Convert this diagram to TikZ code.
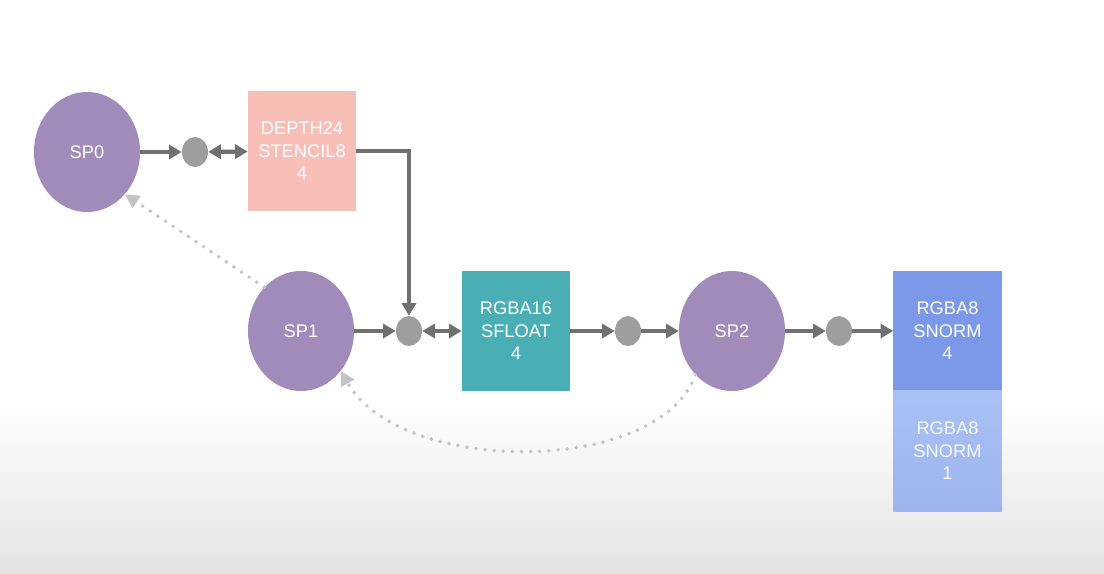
\documentclass[tikz,border=0pt]{standalone}
\usepackage{fontspec}
\setmainfont{Liberation Sans}
\usetikzlibrary{shapes.geometric,arrows.meta}
\definecolor{subpass}{HTML}{A08BBA}
\definecolor{depthcol}{HTML}{F8BFB8}
\definecolor{floatcol}{HTML}{4AAEB5}
\definecolor{snormcol}{HTML}{7C98E8}
\definecolor{snormtop}{HTML}{A9C1F6}
\definecolor{snormbot}{HTML}{9DB5EC}
\definecolor{dotcol}{HTML}{9E9E9E}
\definecolor{linecol}{HTML}{707070}
\definecolor{depcol}{HTML}{C4C4C8}
\begin{document}
\begin{tikzpicture}[x=0.025cm,y=-0.025cm]
		        \tikzstyle{subpass}=[ellipse,fill=subpass,minimum width=2.65cm,minimum height=3cm,inner sep=0pt,text=white,font=\fontsize{13}{16}\selectfont]
		        \tikzstyle{attach}=[rectangle,minimum width=2.7cm,minimum height=3cm,inner sep=0pt,align=center,text=white,font=\fontsize{13}{16}\selectfont]
		        \tikzstyle{port}=[ellipse,fill=dotcol,minimum width=0.65cm,minimum height=0.75cm,inner sep=0pt]
		        \tikzstyle{flow}=[draw=linecol,line width=3pt,-{Triangle[length=9pt,width=10pt]}]
		        \tikzstyle{both}=[draw=linecol,line width=3pt,{Triangle[length=9pt,width=10pt]}-{Triangle[length=9pt,width=10pt]}]
		        \tikzstyle{depend}=[draw=depcol,line width=2.8pt,dash pattern=on 0pt off 6.5pt,line cap=round,-{Triangle[length=10pt,width=10pt]}]
		        % background
		        \useasboundingbox (0,0) rectangle (1104,573);
		        \fill[white] (0,0) rectangle (1104,400);
		        \shade[top color=white,bottom color=gray!22] (0,400) rectangle (1104,573);
		       \begin{scope}
			        \node [subpass] (sp0) at (87,152) {SP0};
			        \node [subpass] (sp1) at (301,331) {SP1};
			        \node [subpass] (sp2) at (732,331) {SP2};
			        \node [port] (p0) at (195,152) {};
			        \node [port] (p1) at (409,331) {};
			        \node [port] (p2) at (628,331) {};
			        \node [port] (p3) at (839,331) {};
			        \node [attach,fill=depthcol] (depth) at (302,151) {DEPTH24\\STENCIL8\\4};
			        \node [attach,fill=floatcol] (color) at (516,331) {RGBA16\\SFLOAT\\4};
			        \node [attach,fill=snormcol] (out4) at (947.5,331) {RGBA8\\SNORM\\4};
			        \node [attach,top color=snormtop,bottom color=snormbot,text=white!90!snormtop] (out1) at (947.5,451) {RGBA8\\SNORM\\1};
			        \draw[flow] (sp0) -- (p0);
			        \draw[both] (p0) -- (depth);
			        \draw[flow] (depth.east) -| (p1);
			        \draw[flow] (sp1) -- (p1);
			        \draw[both] (p1) -- (color);
			        \draw[flow] (color) -- (p2);
			        \draw[flow] (p2) -- (sp2);
			        \draw[flow] (sp2) -- (p3);
			        \draw[flow] (p3) -- (out4);
			        % dependencies
			        \draw[depend] (sp1.130) -- (sp0.-48);
			        \draw[depend] (sp2.-130) .. controls (660,476) and (400,476) .. (sp1.-45);
       			 \end{scope}
      		\end{tikzpicture}
\end{document}
